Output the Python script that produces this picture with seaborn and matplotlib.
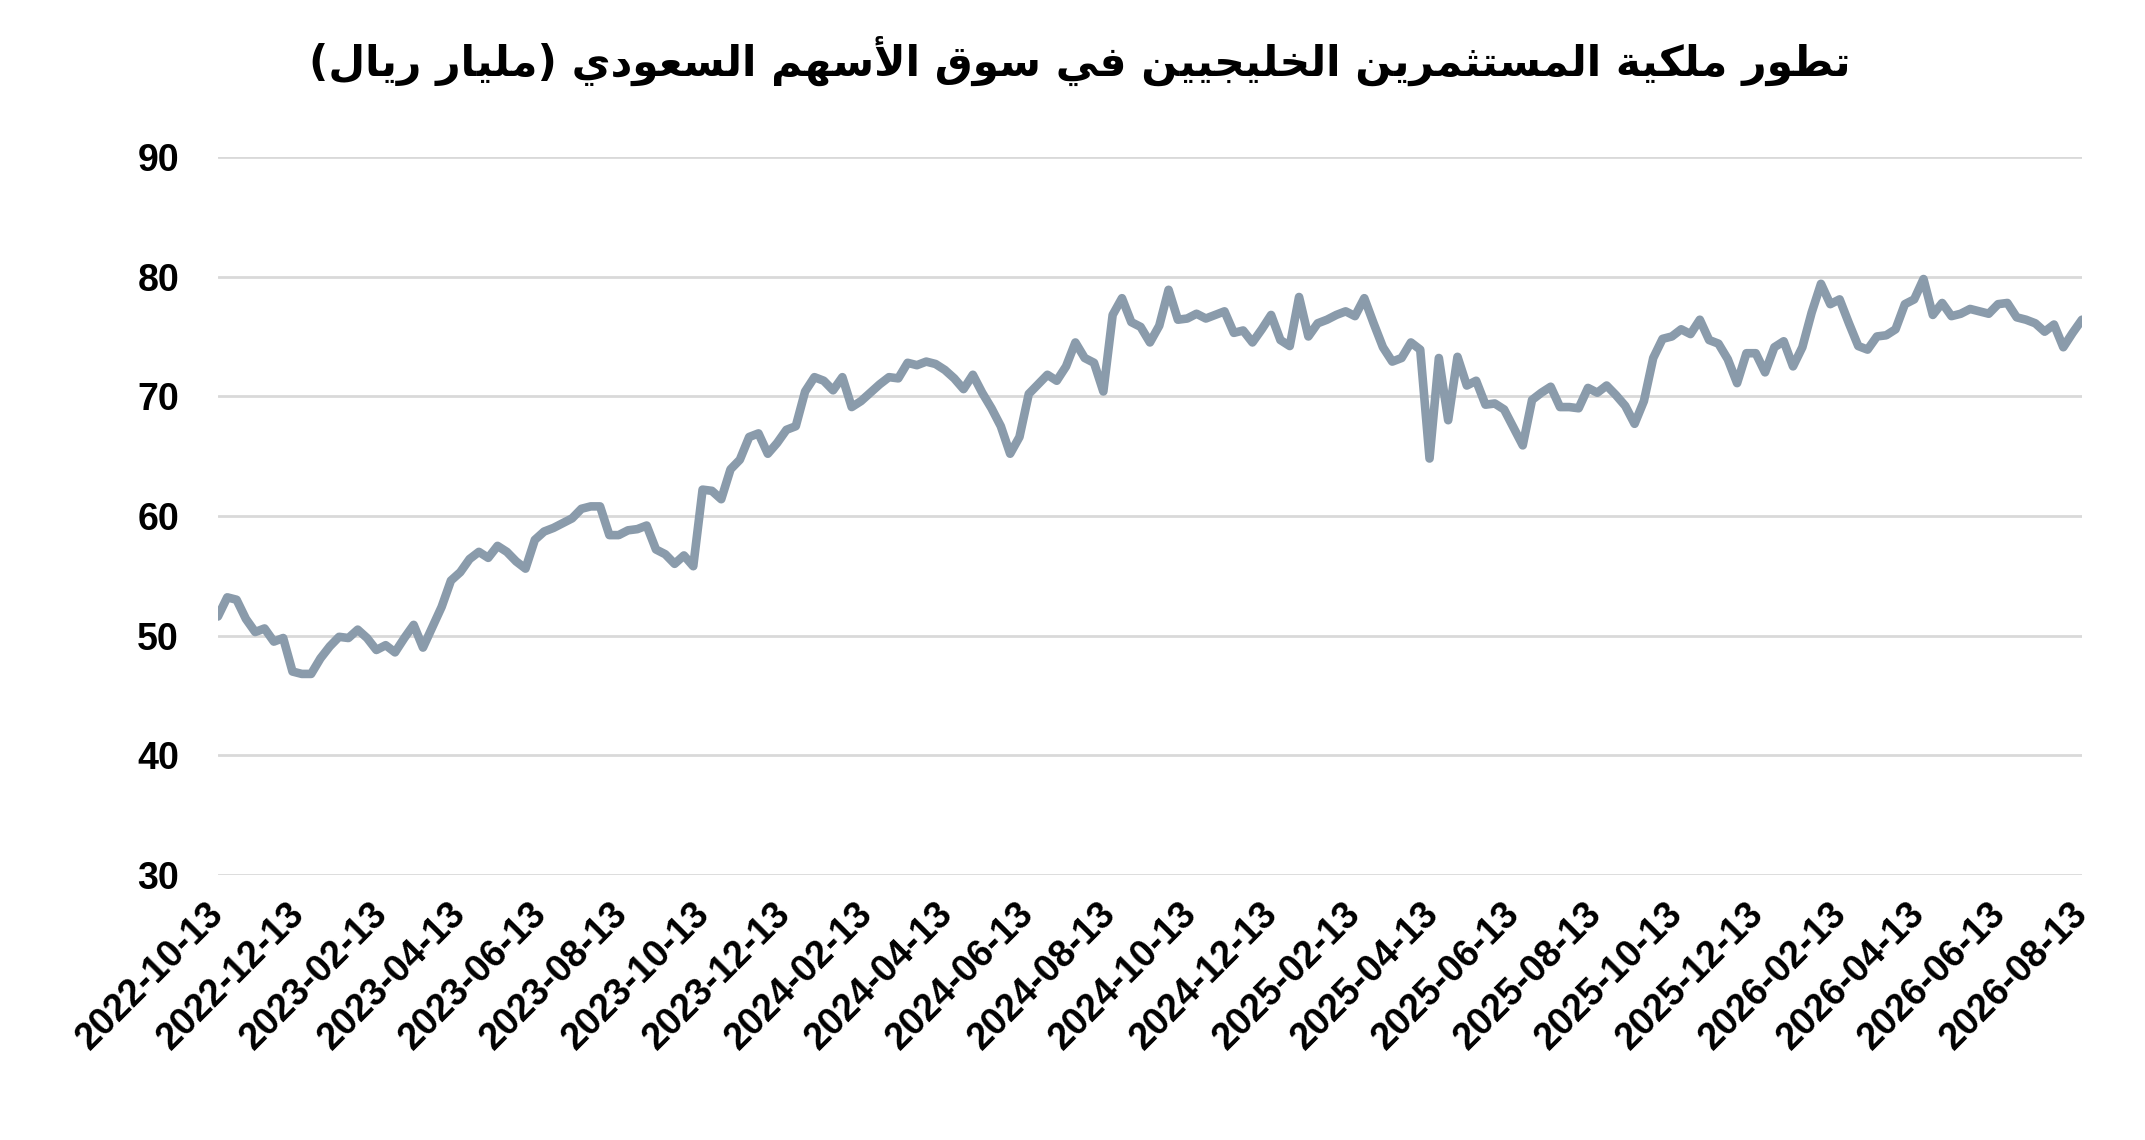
import pandas as pd
import matplotlib
matplotlib.use("Agg")
import matplotlib.pyplot as plt
import matplotlib.dates as mdates
import seaborn as sns

### Data ###

start_date = "2022-10-13"
ownership = [
    51.6, 53.2, 53.0, 51.4, 50.3, 50.6, 49.5, 49.8, 47.0, 46.8,
    46.8, 48.1, 49.1, 49.9, 49.8, 50.5, 49.8, 48.8, 49.2, 48.6,
    49.8, 50.9, 49.0, 50.7, 52.4, 54.6, 55.3, 56.4, 57.0, 56.5,
    57.5, 57.0, 56.2, 55.6, 58.0, 58.7, 59.0, 59.4, 59.8, 60.6,
    60.8, 60.8, 58.4, 58.4, 58.8, 58.9, 59.2, 57.2, 56.8, 56.0,
    56.7, 55.8, 62.2, 62.1, 61.4, 63.9, 64.7, 66.6, 66.9, 65.2,
    66.1, 67.2, 67.5, 70.4, 71.6, 71.3, 70.5, 71.6, 69.1, 69.6,
    70.3, 71.0, 71.6, 71.5, 72.8, 72.6, 72.9, 72.7, 72.2, 71.5,
    70.6, 71.8, 70.3, 69.0, 67.5, 65.2, 66.6, 70.2, 71.0, 71.8,
    71.3, 72.5, 74.5, 73.2, 72.8, 70.4, 76.8, 78.2, 76.2, 75.8,
    74.5, 75.9, 78.9, 76.4, 76.5, 76.9, 76.5, 76.8, 77.1, 75.3,
    75.5, 74.5, 75.6, 76.8, 74.7, 74.2, 78.3, 75.0, 76.1, 76.4,
    76.8, 77.1, 76.7, 78.2, 76.1, 74.1, 72.9, 73.2, 74.5, 73.9,
    64.8, 73.2, 68.0, 73.3, 70.9, 71.3, 69.3, 69.4, 68.9, 67.4,
    65.9, 69.7, 70.3, 70.8, 69.1, 69.1, 69.0, 70.7, 70.3, 70.9,
    70.1, 69.2, 67.7, 69.6, 73.2, 74.8, 75.0, 75.6, 75.2, 76.4,
    74.7, 74.4, 73.1, 71.1, 73.6, 73.6, 72.0, 74.1, 74.6, 72.5,
    74.1, 77.0, 79.4, 77.7, 78.1, 76.1, 74.2, 73.9, 75.0, 75.1,
    75.6, 77.7, 78.1, 79.8, 76.8, 77.8, 76.7, 76.9, 77.3, 77.1,
    76.9, 77.7, 77.8, 76.6, 76.4, 76.1, 75.4, 76.0, 74.1, 75.3,
    76.4,
]
y_ticks = [30, 40, 50, 60, 70, 80, 90]
title = "تطور ملكية المستثمرين الخليجيين في سوق الأسهم السعودي (مليار ريال)"

df = pd.DataFrame({
    "date": pd.date_range(start_date, periods=len(ownership), freq="7D"),
    "value": ownership,
})

### Arabic shaping (matplotlib draws text left to right without joining) ###

# base code of the isolated form in Presentation Forms-B, and whether it joins on both sides
FORMS = {
    "ا": (0xFE8D, False), "أ": (0xFE83, False), "ب": (0xFE8F, True), "ة": (0xFE93, False),
    "ت": (0xFE95, True), "ث": (0xFE99, True), "ج": (0xFE9D, True), "ح": (0xFEA1, True),
    "خ": (0xFEA5, True), "د": (0xFEA9, False), "ذ": (0xFEAB, False), "ر": (0xFEAD, False),
    "ز": (0xFEAF, False), "س": (0xFEB1, True), "ش": (0xFEB5, True), "ص": (0xFEB9, True),
    "ض": (0xFEBD, True), "ط": (0xFEC1, True), "ظ": (0xFEC5, True), "ع": (0xFEC9, True),
    "غ": (0xFECD, True), "ف": (0xFED1, True), "ق": (0xFED5, True), "ك": (0xFED9, True),
    "ل": (0xFEDD, True), "م": (0xFEE1, True), "ن": (0xFEE5, True), "ه": (0xFEE9, True),
    "و": (0xFEED, False), "ى": (0xFEEF, False), "ي": (0xFEF1, True),
}
LAM_ALEF = {"ا": 0xFEFB, "أ": 0xFEF7}


def shape_arabic(text):
    out = []
    i = 0
    prev_joins = False
    while i < len(text):
        ch = text[i]
        if ch not in FORMS:
            out.append(ch)
            prev_joins = False
            i += 1
            continue
        nxt = text[i + 1] if i + 1 < len(text) else ""
        if ch == "ل" and nxt in LAM_ALEF:
            out.append(chr(LAM_ALEF[nxt] + (1 if prev_joins else 0)))
            prev_joins = False
            i += 2
            continue
        base, dual = FORMS[ch]
        next_joins = dual and nxt in FORMS
        if prev_joins and next_joins:
            form = base + 3
        elif next_joins:
            form = base + 2
        elif prev_joins:
            form = base + 1
        else:
            form = base
        out.append(chr(form))
        prev_joins = dual
        i += 1
    visual = "".join(reversed(out))
    return visual.translate(str.maketrans("()", ")("))


### Plot ###

sns.set_style("white")
plt.rcParams["font.family"] = ["Liberation Sans", "DejaVu Sans"]
plt.rcParams["text.color"] = "black"
plt.rcParams["xtick.color"] = "black"
plt.rcParams["ytick.color"] = "black"

fig = plt.figure(figsize=(21.45, 11.4), dpi=100)
ax = fig.add_axes([0.1016, 0.2325, 0.869, 0.6298])

sns.lineplot(data=df, x="date", y="value", ax=ax, color="#8a9bab", linewidth=6.2)

ax.set_ylim(30, 90)
ax.set_yticks(y_ticks)
ax.set_xlim(df["date"].iloc[0], df["date"].iloc[-1])
ax.xaxis.set_major_locator(mdates.MonthLocator(bymonth=[2, 4, 6, 8, 10, 12], bymonthday=13))
ax.xaxis.set_major_formatter(mdates.DateFormatter("%Y-%m-%d"))

ax.grid(axis="y", color="#d9d9d9", linewidth=2)
ax.grid(axis="x", visible=False)
sns.despine(ax=ax, left=True, bottom=True)
ax.set_xlabel("")
ax.set_ylabel("")
ax.tick_params(axis="y", length=0, pad=28, labelsize=27, labelcolor="black")
ax.tick_params(axis="x", length=0, pad=24, labelsize=27, labelcolor="black")
for lbl in ax.get_yticklabels():
    lbl.set_fontweight("bold")
for lbl in ax.get_xticklabels():
    lbl.set_fontweight("bold")
    lbl.set_rotation(45)
    lbl.set_ha("right")
    lbl.set_va("center")
    lbl.set_rotation_mode("anchor")

fig.text(0.5035, 0.947, shape_arabic(title), ha="center", va="center",
         fontsize=30.5, fontweight="bold", color="black", family=["DejaVu Sans"])

fig.savefig("out.png", dpi=100)
